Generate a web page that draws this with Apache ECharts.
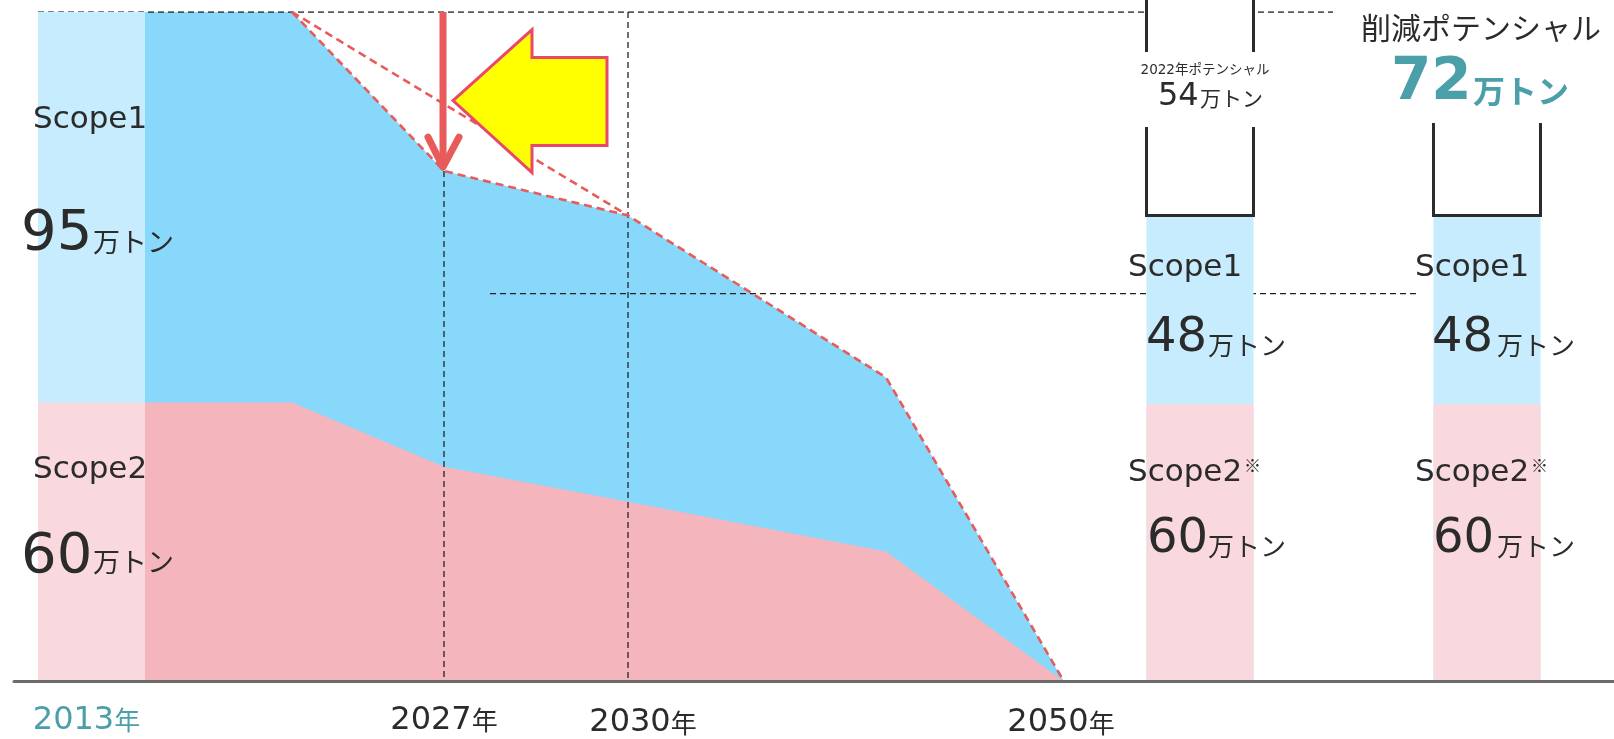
<!DOCTYPE html>
<html>
<head>
<meta charset="utf-8">
<script src="https://cdn.jsdelivr.net/npm/echarts@6/dist/echarts.min.js"></script>
<style>
  html, body { margin: 0; padding: 0; background: #fff; }
  #chart { width: 1614px; height: 739px; }
</style>
</head>
<body>
<div id="chart"></div>
<script>
// x は横位置（軸単位 0-160）、y は図から読み取った高さ（2013年合計 = 155）
const areaX      = [13.1, 27.8, 43.0, 61.4, 87.2, 105.0];
const totalLine  = [155, 155, 118.2, 107.9, 70.4, 0];
const scope2Line = [64.6, 64.6, 49.7, 41.6, 30.1, 0];

const barX         = [7.75, 118.6, 147.3];
const barScope2    = [64.6, 64.2, 64.2];
const barScope1    = [90.4, 43.7, 43.7];
const potentialX   = [118.6, 147.3];
const barPotential = [54, 72];

// 表示用の値（万トン）
const scope1Text    = [95, 48, 48];
const scope2Text    = [60, 60, 60];
const potentialText = [54, 72];

const yearLabels = ['2013年', '2027年', '2030年', '2050年'];
const yearLabelX = [7.25, 43.0, 62.9, 104.7];

// 補助線
const topLevel = 155;
const midLevel = 89.8;
const topLineX = [2.4, 131.9];
const midLineX = [47.6, 140.6];
const arrowDown = [42.9, 155, 119.1];  // x, 上端, 先端
const arrowLeft = [43.9, 134.5];       // 先端

const FONT = "'DejaVu Sans', 'Noto Sans CJK JP', sans-serif";
const JP = "'Noto Sans CJK JP', sans-serif";
const DARK = '#2b2b2b';
const TEAL = '#4b9fa9';
const RED = '#e85b5b';
const BAR_W = 107;

const pts = (xs, ys) => xs.map((x, i) => [x, ys[i]]);
const barTotal = barScope2.map((v, i) => v + barScope1[i]);

function dashLine(data, color, width, type) {
  return {
    type: 'line', data: data, symbol: 'none', silent: true, z: 2,
    lineStyle: { color: color, width: width, type: type }
  };
}

function txt(x, y, text, size, opt) {
  opt = opt || {};
  return {
    type: 'text', x: x, y: y, z: 101, silent: true,
    style: {
      text: text, fontSize: size, fontFamily: opt.family || FONT,
      fontWeight: opt.weight || 'normal', fill: opt.color || DARK,
      align: opt.align || 'left', verticalAlign: 'middle'
    }
  };
}

const myChart = echarts.init(document.getElementById('chart'));

const option = {
  animation: false,
  grid: { left: 14, right: 0, top: 12, bottom: 53 },
  xAxis: {
    type: 'value', min: 0, max: 160, z: 10,
    splitLine: { show: false },
    axisTick: { show: false },
    axisLine: { show: true, onZero: false, lineStyle: { color: '#6b6b6b', width: 3 } },
    axisLabel: {
      customValues: yearLabelX,
      margin: 19,
      formatter: function (v) {
        let i = 0;
        yearLabelX.forEach((p, k) => { if (Math.abs(p - v) < Math.abs(yearLabelX[i] - v)) i = k; });
        const s = yearLabels[i];
        const pre = i === 0 ? 't' : (i >= 2 ? 'e' : 'd');
        return '{' + pre + '|' + s.slice(0, 4) + '}{' + pre + 'n|' + s.slice(4) + '}';
      },
      rich: {
        t:  { color: TEAL, fontSize: 32, fontFamily: 'DejaVu Sans', lineHeight: 40, verticalAlign: 'middle' },
        tn: { color: TEAL, fontSize: 26, fontFamily: JP, lineHeight: 40, verticalAlign: 'middle' },
        d:  { color: DARK, fontSize: 32, fontFamily: 'DejaVu Sans', lineHeight: 40, verticalAlign: 'middle' },
        dn: { color: DARK, fontSize: 26, fontFamily: JP, lineHeight: 40, verticalAlign: 'middle' },
        e:  { color: DARK, fontSize: 32, fontFamily: 'DejaVu Sans', lineHeight: 45, verticalAlign: 'middle' },
        en: { color: DARK, fontSize: 26, fontFamily: JP, lineHeight: 45, verticalAlign: 'middle' }
      }
    }
  },
  yAxis: {
    type: 'value', min: 0, max: 155, show: false,
    splitLine: { show: false }
  },
  series: [
    {
      name: 'Scope1+2', type: 'line', data: pts(areaX, totalLine), symbol: 'none', silent: true, z: 1,
      lineStyle: { width: 0 }, areaStyle: { color: '#88d8fc', opacity: 1 }
    },
    {
      name: 'Scope2', type: 'line', data: pts(areaX, scope2Line), symbol: 'none', silent: true, z: 1,
      lineStyle: { width: 0 }, areaStyle: { color: '#f4b5bc', opacity: 1 }
    },
    // 黒の破線
    dashLine(pts(topLineX, [topLevel, topLevel]), '#222', 1.3, [6, 4]),
    dashLine(pts(midLineX, [midLevel, midLevel]), '#222', 1.3, [6, 4]),
    dashLine([[areaX[2], totalLine[2]], [areaX[2], 0]], '#222', 1.3, [6, 4]),
    dashLine([[areaX[3], topLevel], [areaX[3], 0]], '#222', 1.3, [6, 4]),
    // 赤の破線
    dashLine(pts(areaX.slice(1), totalLine.slice(1)), RED, 2.6, [8, 5]),
    dashLine([[areaX[1], totalLine[1]], [areaX[3], totalLine[3]]], RED, 2.6, [8, 5]),
    // 棒（合計の上に Scope2 を重ねる）
    {
      name: 'Scope1', type: 'bar', barWidth: BAR_W, barGap: '-100%', z: 3, silent: true,
      data: pts(barX, barTotal), itemStyle: { color: '#c6ecfd' }
    },
    {
      name: 'Scope2', type: 'bar', barWidth: BAR_W, barGap: '-100%', z: 3, silent: true,
      data: pts(barX, barScope2), itemStyle: { color: '#f9d9de' }
    },
    // ポテンシャルの枠
    {
      name: 'potential', type: 'custom', z: 4, silent: true, clip: false,
      data: potentialX.map((x, i) => [x, barTotal[i + 1], barPotential[i]]),
      encode: { x: 0, y: 1 },
      renderItem: function (params, api) {
        const x = api.value(0), base = api.value(1), h = api.value(2);
        const b = api.coord([x, base]);
        const t = api.coord([x, base + h]);
        return {
          type: 'rect',
          shape: { x: b[0] - BAR_W / 2, y: t[1], width: BAR_W, height: b[1] - t[1] },
          style: { fill: '#fff', stroke: DARK, lineWidth: 3 }
        };
      }
    },
    // 赤い下向き矢印
    {
      type: 'custom', z: 5, silent: true, clip: false,
      data: [arrowDown],
      encode: { x: 0, y: [1, 2] },
      renderItem: function (params, api) {
        const a = api.coord([api.value(0), api.value(1)]);
        const b = api.coord([api.value(0), api.value(2)]);
        return {
          type: 'group',
          children: [
            { type: 'line', shape: { x1: a[0], y1: a[1], x2: b[0], y2: b[1] - 3 },
              style: { stroke: RED, lineWidth: 7, lineCap: 'butt' } },
            { type: 'polyline', shape: { points: [[b[0] - 15, b[1] - 30], [b[0], b[1]], [b[0] + 16, b[1] - 30]] },
              style: { stroke: RED, fill: null, lineWidth: 7, lineCap: 'round', lineJoin: 'round' } }
          ]
        };
      }
    },
    // 黄色の左向き矢印
    {
      type: 'custom', z: 6, silent: true, clip: false,
      data: [arrowLeft],
      renderItem: function (params, api) {
        const t = api.coord([api.value(0), api.value(1)]);
        const rel = [[0, 0], [79, -71], [79, -43], [154, -43], [154, 45], [79, 45], [79, 72]];
        return {
          type: 'polygon',
          shape: { points: rel.map(p => [t[0] + p[0], t[1] + p[1]]) },
          style: { fill: '#ffff00', stroke: '#e8496b', lineWidth: 3, lineJoin: 'miter' }
        };
      }
    }
  ],
  graphic: {
    elements: [
      // 文字の背景（枠線を切る）
      { type: 'rect', z: 100, silent: true, shape: { x: 1138, y: 52, width: 127, height: 75 }, style: { fill: '#fff' } },
      { type: 'rect', z: 100, silent: true, shape: { x: 1420, y: 0, width: 136, height: 123 }, style: { fill: '#fff' } },

      // 2013年
      txt(33, 120, 'Scope1', 31),
      txt(21, 234, String(scope1Text[0]), 56),
      txt(93, 242, '万トン', 27, { family: JP }),
      txt(33, 470, 'Scope2', 31),
      txt(21, 557, String(scope2Text[0]), 56),
      txt(93, 562, '万トン', 27, { family: JP }),

      // 右の棒 1
      txt(1128, 268, 'Scope1', 31),
      txt(1146, 339, String(scope1Text[1]), 48),
      txt(1208, 345, '万トン', 26, { family: JP }),
      txt(1128, 473, 'Scope2', 31),
      txt(1244, 466, '※', 17, { family: JP }),
      txt(1147, 540, String(scope2Text[1]), 48),
      txt(1208, 546, '万トン', 26, { family: JP }),

      // 右の棒 2
      txt(1415, 268, 'Scope1', 31),
      txt(1432, 339, String(scope1Text[2]), 48),
      txt(1497, 345, '万トン', 26, { family: JP }),
      txt(1415, 473, 'Scope2', 31),
      txt(1531, 466, '※', 17, { family: JP }),
      txt(1433, 540, String(scope2Text[2]), 48),
      txt(1497, 546, '万トン', 26, { family: JP }),

      // ポテンシャル
      txt(1205, 70, '2022年ポテンシャル', 13.5, { align: 'center' }),
      txt(1158, 97, String(potentialText[0]), 32),
      txt(1200, 98, '万トン', 21, { family: JP }),
      txt(1481, 28, '削減ポテンシャル', 30, { family: JP, align: 'center' }),
      txt(1391, 84, String(potentialText[1]), 58, { color: TEAL, weight: 'bold' }),
      txt(1473, 91, '万トン', 32, { family: JP, color: TEAL, weight: 'bold' })
    ]
  }
};

myChart.setOption(option);
window.onresize = () => myChart.resize();
</script>
</body>
</html>
